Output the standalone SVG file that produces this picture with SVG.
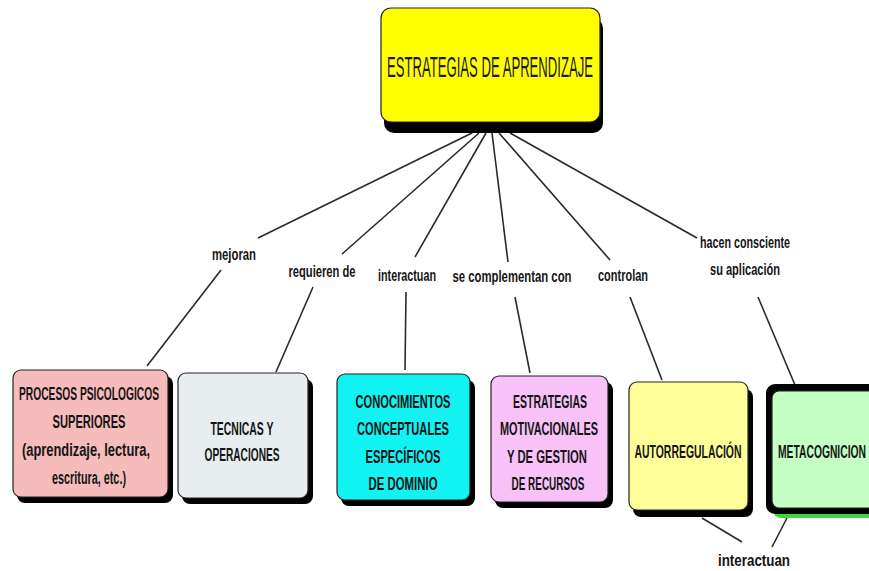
<svg xmlns="http://www.w3.org/2000/svg" width="869" height="571" viewBox="0 0 869 571">
<style>
.box{stroke:#222;stroke-width:1.2}
.sh{fill:#000}
.t{font-family:"Liberation Sans",Arial,sans-serif;font-weight:bold;font-size:17.5px;fill:#151515;text-anchor:middle}
.lbl{font-family:"Liberation Sans",Arial,sans-serif;font-weight:bold;font-size:17px;fill:#151515;text-anchor:middle}
.title{font-family:"Liberation Sans",Arial,sans-serif;font-size:30px;fill:#1a1a1a;text-anchor:middle}
.c{stroke:#2a2a2a;stroke-width:1.6;fill:none}
</style>
<rect width="869" height="571" fill="#fff"/>
<g id="connectors">
<line class="c" x1="472" y1="133" x2="258" y2="238"/>
<line class="c" x1="221" y1="270" x2="147" y2="366"/>
<line class="c" x1="479" y1="133" x2="342" y2="254"/>
<line class="c" x1="313" y1="287" x2="276" y2="372"/>
<line class="c" x1="486" y1="133" x2="415" y2="257"/>
<line class="c" x1="406" y1="292" x2="405" y2="370"/>
<line class="c" x1="492" y1="133" x2="508" y2="262"/>
<line class="c" x1="515" y1="297" x2="530" y2="373"/>
<line class="c" x1="499" y1="133" x2="610" y2="260"/>
<line class="c" x1="630" y1="297" x2="662" y2="380"/>
<line class="c" x1="510" y1="133" x2="697" y2="238"/>
<line class="c" x1="758" y1="297" x2="795" y2="385"/>
<line class="c" x1="702" y1="518" x2="742" y2="542"/>
<line class="c" x1="787" y1="518" x2="772" y2="547"/>
</g>
<g id="n-main">
<rect class="sh" x="384" y="18" width="219" height="115" rx="10"/>
<rect class="box" x="381" y="8" width="219" height="114" rx="10" fill="#ffff00"/>
<text class="title" x="490" y="77" textLength="206" lengthAdjust="spacingAndGlyphs">ESTRATEGIAS DE APRENDIZAJE</text>
</g>
<g id="n-procesos">
<rect class="sh" x="17" y="376" width="156" height="127" rx="8"/>
<rect class="box" x="13" y="370" width="155" height="127" rx="8" fill="#f6bcbc"/>
<text class="t" x="89" y="400" textLength="140" lengthAdjust="spacingAndGlyphs">PROCESOS PSICOLOGICOS</text>
<text class="t" x="89" y="428" textLength="73" lengthAdjust="spacingAndGlyphs">SUPERIORES</text>
<text class="t" x="86" y="456" textLength="128" lengthAdjust="spacingAndGlyphs">(aprendizaje, lectura,</text>
<text class="t" x="89" y="484" textLength="74" lengthAdjust="spacingAndGlyphs">escritura, etc.)</text>
</g>
<g id="n-tecnicas">
<rect class="sh" x="182" y="379" width="131" height="125" rx="8"/>
<rect class="box" x="178" y="373" width="130" height="125" rx="8" fill="#e8eef0"/>
<text class="t" x="242" y="435" textLength="63" lengthAdjust="spacingAndGlyphs">TECNICAS Y</text>
<text class="t" x="242" y="461" textLength="75" lengthAdjust="spacingAndGlyphs">OPERACIONES</text>
</g>
<g id="n-conocimientos">
<rect class="sh" x="341" y="380" width="134" height="126" rx="8"/>
<rect class="box" x="337" y="374" width="133" height="126" rx="8" fill="#11f2f2"/>
<text class="t" x="403" y="408" textLength="95" lengthAdjust="spacingAndGlyphs">CONOCIMIENTOS</text>
<text class="t" x="403" y="435" textLength="92" lengthAdjust="spacingAndGlyphs">CONCEPTUALES</text>
<text class="t" x="403" y="463" textLength="75" lengthAdjust="spacingAndGlyphs">ESPECÍFICOS</text>
<text class="t" x="403" y="490" textLength="69" lengthAdjust="spacingAndGlyphs">DE DOMINIO</text>
</g>
<g id="n-motivacionales">
<rect class="sh" x="495" y="382" width="118" height="126" rx="8"/>
<rect class="box" x="491" y="376" width="117" height="126" rx="8" fill="#f8c2f8"/>
<text class="t" x="550" y="408" textLength="74" lengthAdjust="spacingAndGlyphs">ESTRATEGIAS</text>
<text class="t" x="549" y="435" textLength="98" lengthAdjust="spacingAndGlyphs">MOTIVACIONALES</text>
<text class="t" x="547" y="463" textLength="80" lengthAdjust="spacingAndGlyphs">Y DE GESTION</text>
<text class="t" x="548" y="490" textLength="73" lengthAdjust="spacingAndGlyphs">DE RECURSOS</text>
</g>
<g id="n-autorregulacion">
<rect class="sh" x="633" y="389" width="120" height="128" rx="8"/>
<rect class="box" x="629" y="382" width="119" height="128" rx="8" fill="#ffff99"/>
<g transform="translate(688,458) scale(0.6,1)"><text class="t" x="0" y="0" textLength="178.3" lengthAdjust="spacingAndGlyphs">AUTORREGULACIÓN</text></g>
</g>
<g id="n-metacognicion">
<rect x="773" y="392" width="110" height="126" rx="8" fill="#3bd63b"/>
<rect x="766" y="384" width="115" height="130" rx="9" fill="#000"/>
<rect class="box" x="772" y="391" width="110" height="117" rx="7" fill="#c4ffc4"/>
<g transform="translate(778,458) scale(0.6,1)"><text class="t" x="0" y="0" style="text-anchor:start" textLength="146.7" lengthAdjust="spacingAndGlyphs">METACOGNICION</text></g>
</g>
<g id="labels">
<g transform="translate(234,260) scale(0.65,1)"><text class="lbl" x="0" y="0" textLength="67.7" lengthAdjust="spacingAndGlyphs">mejoran</text></g>
<g transform="translate(322,277) scale(0.65,1)"><text class="lbl" x="0" y="0" textLength="103.1" lengthAdjust="spacingAndGlyphs">requieren de</text></g>
<g transform="translate(407,281) scale(0.65,1)"><text class="lbl" x="0" y="0" textLength="89.2" lengthAdjust="spacingAndGlyphs">interactuan</text></g>
<g transform="translate(512,282) scale(0.65,1)"><text class="lbl" x="0" y="0" textLength="183" lengthAdjust="spacingAndGlyphs">se complementan con</text></g>
<g transform="translate(623,281) scale(0.65,1)"><text class="lbl" x="0" y="0" textLength="76.9" lengthAdjust="spacingAndGlyphs">controlan</text></g>
<g transform="translate(745,248) scale(0.65,1)"><text class="lbl" x="0" y="0" textLength="138.5" lengthAdjust="spacingAndGlyphs">hacen consciente</text></g>
<g transform="translate(745,275) scale(0.65,1)"><text class="lbl" x="0" y="0" textLength="107.7" lengthAdjust="spacingAndGlyphs">su aplicación</text></g>
<g transform="translate(754,566) scale(0.65,1)"><text class="lbl" x="0" y="0" textLength="110.8" lengthAdjust="spacingAndGlyphs">interactuan</text></g>
</g>
</svg>
